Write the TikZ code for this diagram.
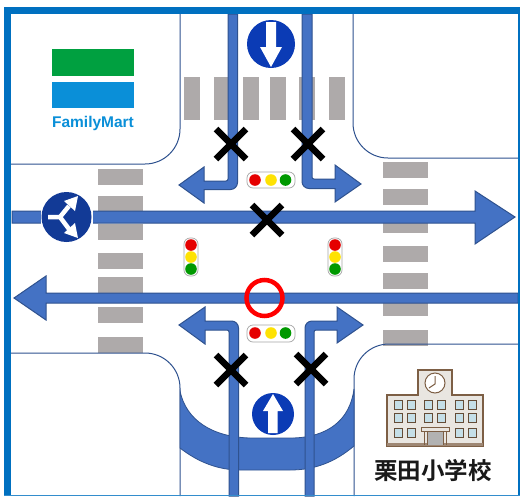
\documentclass[tikz,border=0pt]{standalone}
\usepackage{fontspec}
\setmainfont{Liberation Sans}
\newfontfamily\cjkfont{Noto Sans CJK JP}[BoldFont={Noto Sans CJK JP Bold}]
\definecolor{arrowblue}{HTML}{4472C4}
\definecolor{arrowedge}{HTML}{2F528F}
\definecolor{framecol}{HTML}{0070C0}
\definecolor{zebra}{HTML}{AEAAAA}
\definecolor{signblue}{HTML}{0B3BB5}
\definecolor{signnavy}{HTML}{123A96}
\definecolor{fmgreen}{HTML}{00A040}
\definecolor{fmblue}{HTML}{0A8FD8}
\definecolor{wall}{HTML}{E9E6E1}
\definecolor{brick}{HTML}{7D5F45}
\definecolor{glass}{HTML}{C5DFE8}
\tikzset{
  arrowshape/.style={fill=arrowblue,draw=arrowedge,line width=1pt,line join=miter},
  blockshape/.style={draw=arrowedge,line width=1pt},
  zebrabar/.style={fill=zebra,draw=none},
  crossmark/.style={draw=black,line width=6.5pt},
  lightbody/.style={fill=white,draw=black!35,line width=.7pt,rounded corners=6pt},
  windowpane/.style={fill=glass,draw=brick!80!black,line width=.9pt},
  signarrow/.style={fill=white,draw=none},
}
\newcommand{\zebrav}[1]{\fill[zebrabar] (#1,77) rectangle ++(16,43);}
\newcommand{\zebrah}[4]{\fill[zebrabar] (#1,#3) rectangle (#2,#4);}
\newcommand{\xmark}[2]{\draw[crossmark] (#1-15,#2-15) -- (#1+15,#2+15) (#1-15,#2+15) -- (#1+15,#2-15);}
\newcommand{\lamps}[6]{%
  \fill[red!90!black] (#1,#2) circle (5.8);
  \fill[yellow!85!orange] (#3,#4) circle (5.8);
  \fill[green!60!black] (#5,#6) circle (5.8);}
\begin{document}
\begin{tikzpicture}[x=1pt,y=-1pt]
\useasboundingbox (0,0) rectangle (520,496);
\fill[white] (0,0) rectangle (520,496);
% crosswalks
\foreach \x in {184,214,243,270,299,329} {\zebrav{\x}}
\foreach \a/\b in {169/185,196/212,224/240,253/269,277/293,307/323,337/353} {\zebrah{98}{143}{\a}{\b}}
\foreach \a/\b in {162/178,189/205,217/233,246/262,273/289,300/316,330/346} {\zebrah{383}{428}{\a}{\b}}
% blocks
\draw[blockshape] (8,164) [rounded corners=35pt] -- (180,164) [sharp corners] -- (180,10);
\draw[blockshape] (353,10) [rounded corners=35pt] -- (353,158) [sharp corners] -- (519,158);
\draw[blockshape] (8,353) [rounded corners=35pt] -- (180,353) [sharp corners] -- (180,496);
\draw[blockshape] (354,496) [rounded corners=35pt] -- (354,344) [sharp corners] -- (519,344);
% band
\path[arrowshape,line width=.8pt] (180,391) .. controls (186,420) and (212,437) .. (250,438)
  -- (293,438) .. controls (328,437) and (350,420) .. (354,389)
  -- (354,446) .. controls (335,462) and (315,470) .. (290,470)
  -- (240,470) .. controls (218,470) and (198,462) .. (180,448) -- cycle;
% turning arrows
\path[arrowshape] (228,14) -- (237.5,14) [rounded corners=7pt] -- (237.5,189.5) [sharp corners] -- (204,189.5)
  -- (204,203) -- (179,185) -- (204,167) -- (204,181) [rounded corners=2pt] -- (228,181) [sharp corners] -- cycle;
\path[arrowshape] (302,14) -- (312,14) [rounded corners=2pt] -- (312,179) [sharp corners] -- (335,179) -- (335,165)
  -- (361,184) -- (335,202) -- (335,188.5) [rounded corners=7pt] -- (302,188.5) [sharp corners] -- cycle;
\path[arrowshape] (229,496) -- (238.5,496) [rounded corners=7pt] -- (238.5,321) [sharp corners] -- (205,321)
  -- (205,307) -- (179,325) -- (205,344) -- (205,330) [rounded corners=2pt] -- (229,330) [sharp corners] -- cycle;
\path[arrowshape] (305,496) -- (314,496) [rounded corners=2pt] -- (314,330) [sharp corners] -- (337,330) -- (337,343)
  -- (363,325) -- (337,307) -- (337,321) [rounded corners=7pt] -- (305,321) [sharp corners] -- cycle;
% straight arrows
\path[arrowshape] (12,211) -- (475,211) -- (475,191) -- (515,217) -- (475,244) -- (475,223) -- (12,223) -- cycle;
\path[arrowshape] (518,293) -- (46,293) -- (46,276) -- (14,298) -- (46,320) -- (46,303) -- (518,303) -- cycle;
% frame
\fill[framecol] (4,7) rectangle (519,14);
\fill[framecol] (4,7) rectangle (11,496);
\fill[framecol] (518,7) rectangle (520,496);
\fill[framecol!80!white] (4,494.5) rectangle (520,496);
% signs
\fill[white] (245,17) rectangle (297,70);
\fill[signblue] (271,44) circle (24);
\path[signarrow] (266,22) -- (276,22) -- (276,47) -- (282,47) -- (271,67) -- (260,47) -- (266,47) -- cycle;
\fill[white] (41,192) rectangle (93,243);
\fill[signnavy] (66.5,217) circle (25);
\draw[white,line width=4.5pt] (48,217) -- (60,217) -- (69,206) (60,217) -- (69,229);
\fill[white] (64,201) -- (78,196) -- (75,211) -- cycle;
\fill[white] (64,233) -- (78,238) -- (75,223) -- cycle;
\fill[signblue] (273,414) circle (21);
\path[signarrow] (268,433) -- (277.5,433) -- (277.5,411) -- (283,411) -- (273,394) -- (263,411) -- (268,411) -- cycle;
% traffic lights
\path[lightbody] (247,172) rectangle (295,188);
\lamps{255}{180}{271}{180}{285.5}{180}
\path[lightbody] (247,325) rectangle (295,342);
\lamps{255}{333}{271}{333}{285.5}{333}
\path[lightbody] (184,238) rectangle (198,276);
\lamps{191}{245}{191}{257}{191}{269}
\path[lightbody] (328,238) rectangle (342,276);
\lamps{335}{245}{335}{257}{335}{269}
% marks
\xmark{231}{144}
\xmark{308}{144}
\xmark{267}{220}
\xmark{231}{370}
\xmark{311}{369}
\draw[red,line width=4.5pt] (264.5,298) circle (18);
% FamilyMart
\fill[fmgreen] (52,49) rectangle (134,76);
\fill[fmblue] (52,82) rectangle (134,108);
\node[text=fmblue,font=\bfseries\fontsize{15.5}{15.5}\selectfont,inner sep=0pt] (fmname) at (93,123.5) {FamilyMart};
% school
\path[fill=wall,draw=brick,line width=1.2pt] (387,395) -- (418,395) -- (418,370) -- (452,370) -- (452,395) -- (483,395) -- (483,446) -- (387,446) -- cycle;
\fill[brick!75!white] (387,443) rectangle (483,446);
\path[fill=white,draw=brick,line width=1pt] (435,383) circle (10);
\draw[brick,line width=1pt] (435,376) -- (435,384) -- (429,388);
\foreach \y in {405,418} {\foreach \x in {398,411,428,441,459,472} {\path[windowpane] (\x-4,\y-4.5) rectangle (\x+4,\y+4.5);}}
\foreach \x in {398,411,459,472} {\path[windowpane] (\x-4,428.5) rectangle (\x+4,437.5);}
\path[fill=black!30,draw=none] (427,431) rectangle (443,445);
\path[fill=wall,draw=brick,line width=1pt] (421,427.5) rectangle (449,431.5);
\draw[brick,line width=1pt] (424,431.5) -- (424,445) (427,431.5) -- (427,445) (443,431.5) -- (443,445) (446,431.5) -- (446,445);
\node[font=\cjkfont\bfseries\fontsize{23.5}{23.5}\selectfont,inner sep=0pt,text=black!90] (schoolname) at (433,471) {栗田小学校};
\end{tikzpicture}
\end{document}
